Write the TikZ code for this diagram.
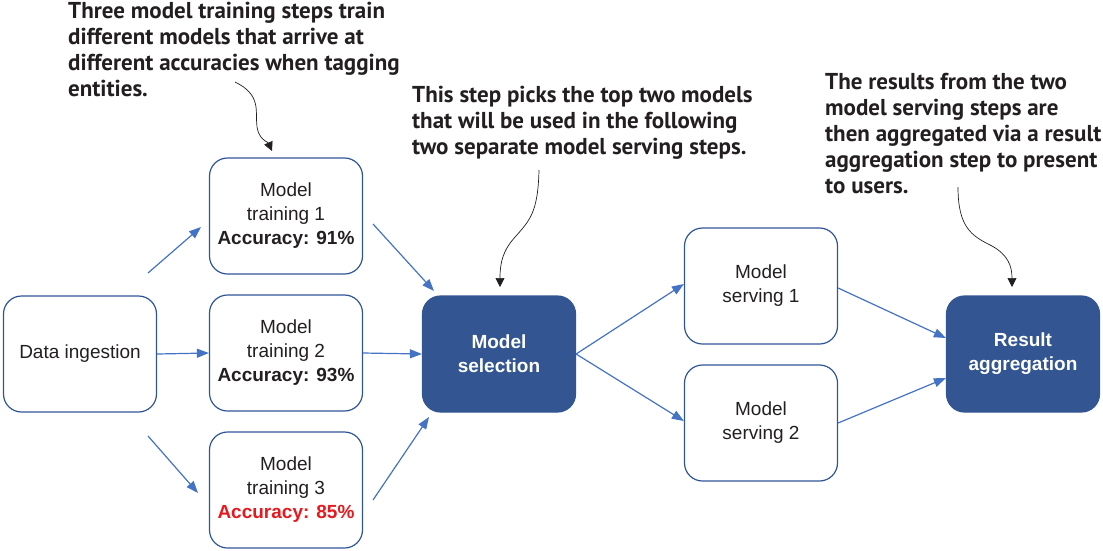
\documentclass[tikz,border=0pt]{standalone}
\usepackage{fontspec}
\setmainfont{Liberation Sans}
\newfontfamily\annfont{PT Sans}
\usetikzlibrary{arrows.meta}
\definecolor{boxblue}{HTML}{2F5597}
\definecolor{linkblue}{HTML}{4472C4}
\definecolor{fillblue}{HTML}{335591}
\definecolor{accred}{HTML}{E8191E}
\definecolor{inkgray}{HTML}{231F20}
\begin{document}
\begin{tikzpicture}[x=1pt,y=-1pt,
  stepbox/.style={draw=boxblue, line width=1.2pt, rounded corners=18pt, minimum width=153pt, minimum height=116pt, align=center, font=\fontsize{19}{24}\selectfont, text=inkgray, inner sep=0pt},
  darkbox/.style={stepbox, fill=fillblue, draw=fillblue, text=white, font=\fontsize{19}{24}\selectfont\bfseries},
  link/.style={draw=linkblue, line width=1.2pt, -{Triangle[length=12pt,width=9pt]}},
  note/.style={align=left, anchor=north west, inner sep=0pt, font=\annfont\bfseries\fontsize{23}{26}\selectfont, text=inkgray},
  callout/.style={draw=inkgray, line width=0.7pt, -{Triangle[length=9pt,width=9pt]}}
]
\useasboundingbox (0,0) rectangle (1103,550);

% boxes
\node[stepbox] (din) at (80,354) {Data ingestion};
\node[stepbox] (t1) at (286,216) {Model\\training 1\\\textbf{Accuracy: 91\%}};
\node[stepbox] (t2) at (286,353) {Model\\training 2\\\textbf{Accuracy: 93\%}};
\node[stepbox] (t3) at (286,490) {Model\\training 3\\\textcolor{accred}{\textbf{Accuracy: 85\%}}};
\node[darkbox] (sel) at (499,354) {Model\\selection};
\node[stepbox] (s1) at (761,286) {Model\\serving 1};
\node[stepbox] (s2) at (761,423) {Model\\serving 2};
\node[darkbox] (agg) at (1023,354) {Result\\aggregation};

% connector end points (arrows float between boxes)
\coordinate (a1s) at (148,273); \coordinate (a1e) at (201,227);
\coordinate (a3s) at (148,436); \coordinate (a3e) at (198,493);
\coordinate (b1s) at (373,224); \coordinate (b1e) at (434,291);
\coordinate (b3s) at (373,500); \coordinate (b3e) at (429,417);

\draw[link] (a1s) -- (a1e);
\draw[link] (din.east) -- (t2.west);
\draw[link] (a3s) -- (a3e);
\draw[link] (b1s) -- (b1e);
\draw[link] (t2.east) -- (sel.west);
\draw[link] (b3s) -- (b3e);
\draw[link] (sel.east) -- ([yshift=2pt]s1.west);
\draw[link] (sel.east) -- ([yshift=2pt]s2.west);
\draw[link] ([yshift=-2pt]s1.east) -- ([yshift=16pt]agg.west);
\draw[link] (s2.east) -- ([yshift=-24pt]agg.west);

% annotations
\node[note] (n1) at (68,2) {Three model training steps train\\different models that arrive at\\different accuracies when tagging\\entities.};
\node[note] (n2) at (412,86) {This step picks the top two models\\that will be used in the following\\two separate model serving steps.};
\node[note] (n3) at (825,73) {The results from the two\\model serving steps are\\then aggregated via a result\\aggregation step to present\\to users.};

\coordinate (c1s) at (235,82); \coordinate (c1e) at (272,151);
\coordinate (c2s) at (539,170); \coordinate (c2e) at (500,287);
\coordinate (c3s) at (958,187); \coordinate (c3e) at (1012,287);
\draw[callout] (c1s) .. controls (262,95) and (255,112) .. (257,127) .. controls (259,140) and (268,142) .. (c1e);
\draw[callout] (c2s) .. controls (538,212) and (530,220) .. (516,236) .. controls (503,250) and (500,262) .. (c2e);
\draw[callout] (c3s) .. controls (958,228) and (972,236) .. (992,246) .. controls (1008,255) and (1012,266) .. (c3e);
\end{tikzpicture}
\end{document}
